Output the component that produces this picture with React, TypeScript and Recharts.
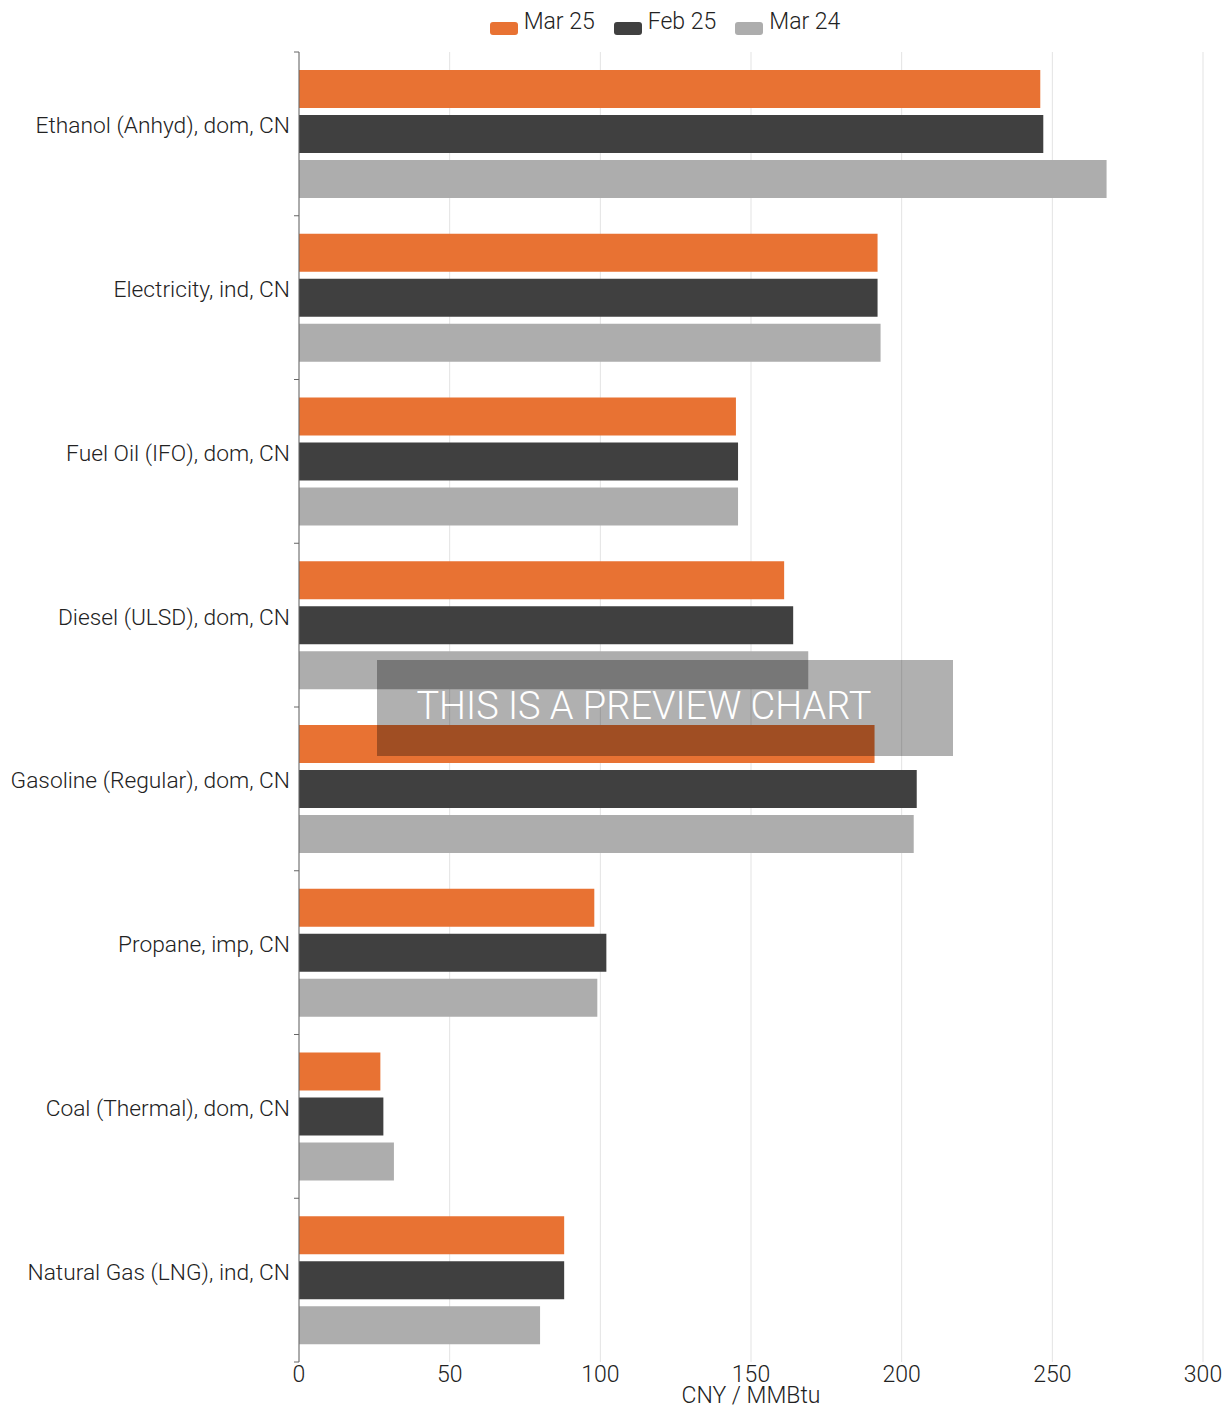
import { BarChart, Bar, XAxis, YAxis, CartesianGrid, Legend } from 'recharts';

const categories = [
  'Ethanol (Anhyd), dom, CN',
  'Electricity, ind, CN',
  'Fuel Oil (IFO), dom, CN',
  'Diesel (ULSD), dom, CN',
  'Gasoline (Regular), dom, CN',
  'Propane, imp, CN',
  'Coal (Thermal), dom, CN',
  'Natural Gas (LNG), ind, CN',
];
const mar25 = [246, 192, 145, 161, 191, 98, 27, 88];
const feb25 = [247, 192, 145.7, 164, 205, 102, 28, 88];
const mar24 = [268, 193, 145.7, 169, 204, 99, 31.5, 80];
const xTicks = [0, 50, 100, 150, 200, 250, 300];

const series = [
  { key: 'mar25', name: 'Mar 25', color: '#E87233' },
  { key: 'feb25', name: 'Feb 25', color: '#404040' },
  { key: 'mar24', name: 'Mar 24', color: '#ADADAD' },
];

const data = categories.map((name, i) => ({
  name,
  mar25: mar25[i],
  feb25: feb25[i],
  mar24: mar24[i],
}));

const W = 1226;
const H = 1405;
const MARGIN = { top: 52, right: 23, bottom: 13, left: 0 };
const X_AXIS_H = 30;
const HALF_BAND = (H - MARGIN.top - MARGIN.bottom - X_AXIS_H) / categories.length / 2;
const FONT = 'Roboto, sans-serif';
const FS = 23;

const CategoryTick = ({ x, y, payload, index }: any) => {
  const axisX = x + 9;
  return (
    <g>
      <line x1={axisX} x2={axisX - 5} y1={y - HALF_BAND} y2={y - HALF_BAND} stroke="#666" />
      {index === categories.length - 1 && (
        <line x1={axisX} x2={axisX - 5} y1={y + HALF_BAND} y2={y + HALF_BAND} stroke="#666" />
      )}
      <text
        x={x}
        y={y - 8}
        textAnchor="end"
        dominantBaseline="central"
        fill="#222"
        fontSize={22.75}
        fontFamily={FONT}
        fontWeight={300}
      >
        {payload.value}
      </text>
    </g>
  );
};

const LegendContent = () => (
  <div style={{ display: 'flex', justifyContent: 'center', gap: 19, fontFamily: FONT, fontWeight: 300, fontSize: FS, lineHeight: '27px', color: '#222', paddingLeft: 104 }}>
    {series.map((s) => (
      <div key={s.key} style={{ display: 'flex', alignItems: 'flex-start' }}>
        <span style={{ display: 'inline-block', width: 28, height: 13, borderRadius: 3, background: s.color, marginTop: 14, marginRight: 6 }} />
        <span>{s.name}</span>
      </div>
    ))}
  </div>
);

export default function App() {
  return (
    <div style={{ position: 'absolute', left: 0, top: 0, width: W, height: H, background: '#fff' }}>
      <BarChart
        width={W}
        height={H}
        data={data}
        layout="vertical"
        margin={MARGIN}
        barCategoryGap={18}
        barGap={7}
      >
        <CartesianGrid horizontal={false} stroke="#e3e3e3" />
        <XAxis
          type="number"
          domain={[0, 300]}
          ticks={xTicks}
          axisLine={false}
          tickLine={false}
          tickSize={0}
          tickMargin={4}
          height={X_AXIS_H}
          interval={0}
          tick={{ fill: '#222', fontSize: FS, fontFamily: FONT, fontWeight: 300 }}
          label={{ value: 'CNY / MMBtu', position: 'insideBottom', offset: -11, fill: '#222', fontSize: FS, fontFamily: FONT, fontWeight: 300 }}
        />
        <YAxis
          type="category"
          dataKey="name"
          width={299}
          axisLine={{ stroke: '#666' }}
          tickLine={false}
          tickSize={0}
          tickMargin={9}
          interval={0}
          tick={<CategoryTick />}
        />
        <Legend
          verticalAlign="middle"
          layout="horizontal"
          content={<LegendContent />}
          wrapperStyle={{ top: 8, left: 0, width: W }}
        />
        {series.map((s) => (
          <Bar key={s.key} dataKey={s.key} name={s.name} fill={s.color} isAnimationActive={false} />
        ))}
      </BarChart>
      <div
        style={{
          position: 'absolute',
          left: 377,
          top: 660,
          width: 576,
          height: 96,
          background: 'rgba(0,0,0,0.31)',
          color: '#fff',
          fontFamily: FONT,
          fontWeight: 300,
          fontSize: 38,
          display: 'flex',
          alignItems: 'center',
          justifyContent: 'center',
          paddingRight: 42,
          paddingBottom: 4,
          boxSizing: 'border-box',
          pointerEvents: 'none',
        }}
      >
        THIS IS A PREVIEW CHART
      </div>
    </div>
  );
}
